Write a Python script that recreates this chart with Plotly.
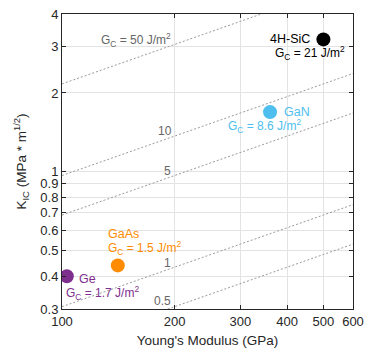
import numpy as np
import plotly.graph_objects as go

# Data
materials = ["Ge", "GaAs", "GaN", "4H-SiC"]
modulus_gpa = [103, 141, 360, 500]
k_ic = [0.40, 0.44, 1.69, 3.2]
g_c_labels = ["1.7", "1.5", "8.6", "21"]
colors = ["#7E2F8E", "#FF8C00", "#4DBEEE", "#000000"]

gc_lines = [50, 10, 5, 1, 0.5]
poisson = 0.25
e_range = [100, 600]

x_ticks = [100, 200, 300, 400, 500, 600]
y_ticks = [0.3, 0.4, 0.5, 0.6, 0.7, 0.8, 0.9, 1, 2, 3, 4]
y_tick_text = ["0.3", "0.4", "0.5", "0.6", "0.7", "0.8", "0.9", "1", "2", "3", "4"]

FONT = "Liberation Sans, Arial, sans-serif"

fig = go.Figure()

E = np.logspace(np.log10(e_range[0]), np.log10(e_range[1]), 100)
for g in gc_lines:
    K = np.sqrt(E * 1e9 * g * (1 - poisson ** 2)) / 1e6
    fig.add_trace(go.Scatter(x=E, y=K, mode="lines",
                             line=dict(color="#9a9a9a", width=1, dash="2px,2px"),
                             hoverinfo="skip", showlegend=False))

for m, e, k, c in zip(materials, modulus_gpa, k_ic, colors):
    fig.add_trace(go.Scatter(x=[e], y=[k], mode="markers",
                             marker=dict(size=14, color=c),
                             showlegend=False, name=m))

line_label_pos = {10: (189, 1.43), 5: (191, 1.01), 1: (191, 0.451), 0.5: (186, 0.322)}
for g, (ex, ky) in line_label_pos.items():
    fig.add_annotation(x=np.log10(ex), y=np.log10(ky), text=str(g), showarrow=False,
                       font=dict(family=FONT, size=12, color="#666666"))
fig.add_annotation(x=np.log10(158), y=np.log10(3.19), text="G<sub>C</sub> = 50 J/m<sup>2</sup>",
                   showarrow=False, font=dict(family=FONT, size=12, color="#666666"))

name_pos = [("left", 10, -3), ("left", -12, 31), ("left", 12, 0), ("right", -11, 0)]
gc_pos = [("left", -3, -17), ("left", -12, 17), ("right", 33, -14), ("left", -50, -14)]
for i, (m, e, k, c, gl) in enumerate(zip(materials, modulus_gpa, k_ic, colors, g_c_labels)):
    xa, xs, ys = name_pos[i]
    fig.add_annotation(x=np.log10(e), y=np.log10(k), text=m, showarrow=False,
                       xanchor=xa, xshift=xs, yshift=ys,
                       font=dict(family=FONT, size=12.5, color=c))
    xa, xs, ys = gc_pos[i]
    fig.add_annotation(x=np.log10(e), y=np.log10(k), text=f"G<sub>C</sub> = {gl} J/m<sup>2</sup>",
                       showarrow=False, xanchor=xa, xshift=xs, yshift=ys,
                       font=dict(family=FONT, size=12, color=c))

axis_common = dict(type="log", showgrid=True, gridcolor="#e3e3e3", gridwidth=1,
                   showline=True, linecolor="#262626", linewidth=1, mirror="allticks",
                   ticks="inside", ticklen=4, tickcolor="#262626", zeroline=False,
                   automargin=False, ticklabeloverflow="allow",
                   tickfont=dict(family=FONT, size=13, color="#262626"))

# page body has an 8px default margin, so the figure is sized to fit inside it
fig.update_layout(
    width=368, height=340,
    margin=dict(l=54, r=23, t=6, b=39),
    plot_bgcolor="white", paper_bgcolor="white",
    xaxis=dict(range=[np.log10(100), np.log10(600)], tickvals=x_ticks,
               ticktext=[str(v) for v in x_ticks],
               title=dict(text="Young's Modulus (GPa)", standoff=8,
                          font=dict(family=FONT, size=13.5, color="#262626")),
               **axis_common),
    yaxis=dict(range=[np.log10(0.3), np.log10(4)], tickvals=y_ticks, ticktext=y_tick_text,
               title=dict(text="K<sub>IC</sub> (MPa * m<sup>1/2</sup>)", standoff=10,
                          font=dict(family=FONT, size=13.5, color="#262626")),
               **axis_common),
)

fig.write_html("out.html")
